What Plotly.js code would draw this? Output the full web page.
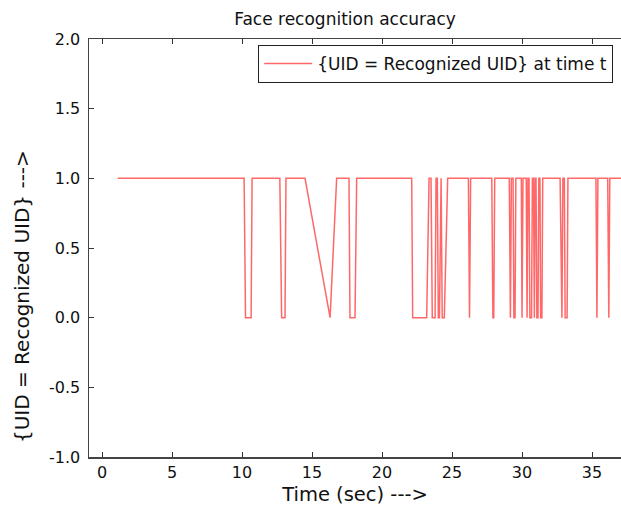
<!DOCTYPE html>
<html>
<head>
<meta charset="utf-8">
<script src="https://cdn.plot.ly/plotly-3.0.1.min.js"></script>
<style>html,body{margin:0;padding:0;background:#fff;}#chart{width:621px;height:509px;}</style>
</head>
<body>
<div id="chart"></div>
<script>
// Time (sec) of each sample
const timeSec = [1.12, 10.15, 10.25, 10.65, 10.72, 12.70, 12.83, 13.07, 13.14, 14.50, 16.29, 16.76,
  17.64, 17.71, 18.07, 18.19, 22.12, 22.19, 23.19, 23.36, 23.50, 23.59, 23.79, 23.86, 23.95, 24.02,
  24.10, 24.17, 24.22, 24.30, 24.45, 24.69, 26.17, 26.25, 26.33, 27.84, 27.92, 27.98, 28.05,
  29.09, 29.17, 29.24, 29.36, 29.42, 29.50, 29.56, 29.95, 30.00, 30.07, 30.30, 30.36, 30.42,
  30.50, 30.56, 30.68, 30.74, 30.82, 30.88, 30.94, 31.00, 31.06, 31.14, 31.20, 31.28, 31.33,
  31.42, 31.48, 32.72, 32.80, 32.85, 32.92, 33.02, 33.08, 33.22, 33.28, 35.28, 35.35, 35.42,
  36.12, 36.20, 36.27, 37.50];
// 1 if UID == recognized UID, else 0
const matchFlag = [1, 1, 0, 0, 1, 1, 0, 0, 1, 1, 0, 1,
  1, 0, 0, 1, 1, 0, 0, 1, 1, 0, 0, 1, 1, 0,
  0, 1, 1, 0, 0, 1, 1, 0, 1, 1, 0, 0, 1,
  1, 0, 1, 1, 0, 0, 1, 1, 0, 1, 1, 0, 1,
  1, 0, 0, 1, 1, 0, 1, 1, 0, 0, 1, 1, 0,
  0, 1, 1, 0, 0, 1, 1, 0, 0, 1, 1, 0, 1,
  1, 0, 1, 1];

const xTickVals = [0, 5, 10, 15, 20, 25, 30, 35];
const xTickText = ["0", "5", "10", "15", "20", "25", "30", "35"];
const yTickVals = [-1, -0.5, 0, 0.5, 1, 1.5, 2];
const yTickText = ["-1.0", "-0.5", "0.0", "0.5", "1.0", "1.5", "2.0"];

const font = "DejaVu Sans, Bitstream Vera Sans, sans-serif";

const trace = {
  x: timeSec,
  y: matchFlag,
  mode: "lines",
  type: "scatter",
  name: "{UID = Recognized UID} at time t",
  line: {color: "rgba(255,40,40,0.7)", width: 1.5},
  hoverinfo: "skip"
};

const layout = {
  width: 621,
  height: 509,
  margin: {l: 89, r: 0, t: 39, b: 52, pad: 0},
  paper_bgcolor: "#fff",
  plot_bgcolor: "#fff",
  font: {family: font, color: "#111", size: 16},
  title: {text: "Face recognition accuracy", font: {family: font, size: 17, color: "#111"},
          x: 0.5556, xanchor: "center", y: 0.962, yanchor: "middle"},
  showlegend: true,
  legend: {x: 0.318, y: 0.9856, xanchor: "left", yanchor: "top", bgcolor: "#fff",
           bordercolor: "#222", borderwidth: 1, font: {family: font, size: 17, color: "#111"},
           itemwidth: 48},
  xaxis: {
    range: [-0.93, 37.07], tickmode: "array", tickvals: xTickVals, ticktext: xTickText,
    ticks: "inside", ticklen: 5, tickwidth: 1, tickcolor: "#333",
    showline: true, linecolor: "#444", linewidth: 1.5, mirror: "ticks",
    showgrid: false, zeroline: false, tickfont: {family: font, size: 16, color: "#111"},
    title: {text: "Time (sec) --->", font: {family: font, size: 19.5, color: "#111"}, standoff: 6}
  },
  yaxis: {
    range: [-1, 2], tickmode: "array", tickvals: yTickVals, ticktext: yTickText,
    ticks: "inside", ticklen: 5, tickwidth: 1, tickcolor: "#333", ticklabelstandoff: 4,
    showline: true, linecolor: "#444", linewidth: 1.5, mirror: false,
    showgrid: false, zeroline: false, tickfont: {family: font, size: 16, color: "#111"}
  },
  annotations: [{
    text: "{UID = Recognized UID} --->", textangle: -90, showarrow: false,
    xref: "paper", yref: "paper", x: -0.126, y: 0.385, xanchor: "center", yanchor: "middle",
    font: {family: font, size: 20, color: "#111"}
  }]
};

Plotly.newPlot("chart", [trace], layout, {displayModeBar: false, staticPlot: true});
</script>
</body>
</html>
